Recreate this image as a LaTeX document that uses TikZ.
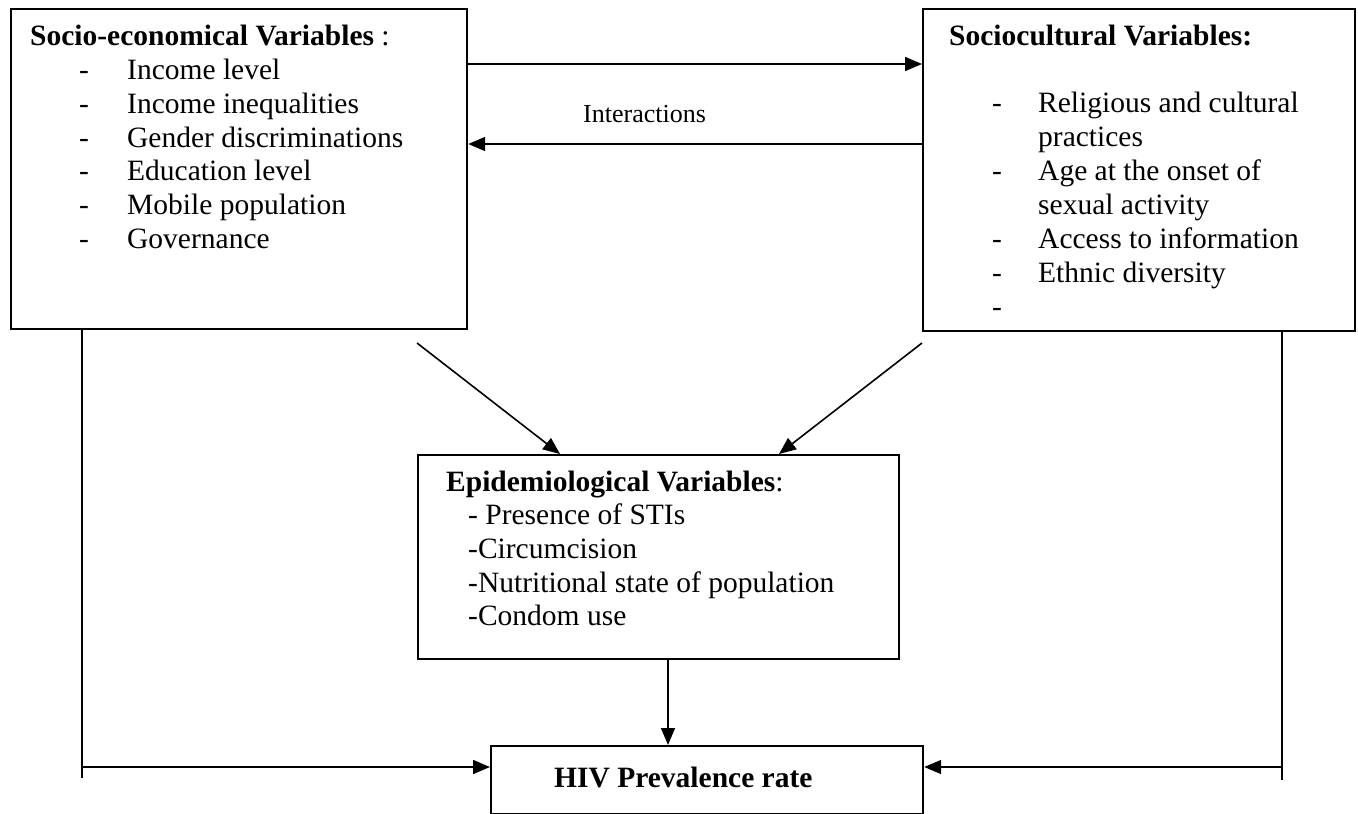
\documentclass[tikz,border=0pt]{standalone}
\usepackage{fontspec}
\setmainfont{Liberation Serif}
\usetikzlibrary{arrows.meta,calc}
\begin{document}
\begin{tikzpicture}[x=1pt,y=-1pt,
  box/.style={draw,line width=2.2pt,inner sep=0pt,anchor=north west},
  txt/.style={anchor=base west,inner sep=0pt,font=\fontsize{29.5}{34}\selectfont},
  conn/.style={line width=1.6pt,-{Triangle[length=17pt,width=14pt]}},
  plain/.style={line width=1.6pt}]
\useasboundingbox (0,0) rectangle (1358,814);
% boxes
\node[box,minimum width=456pt,minimum height=320pt] (lb) at (10,8) {};
\node[box,minimum width=432pt,minimum height=322pt] (rb) at (922,8) {};
\node[box,minimum width=481pt,minimum height=204pt] (eb) at (417,454) {};
\node[box,minimum width=432pt,minimum height=68pt] (hb) at (490,745) {};
% left box text
\node[txt] (lt) at (30,45) {\textbf{Socio-economical Variables} :};
\foreach \y/\t [count=\i] in {79/Income level,113/Income inequalities,147/Gender discriminations,180/Education level,214/Mobile population,248/Governance}{
  \node[txt] (ld\i) at (79,\y) {-};
  \node[txt] (li\i) at (127,\y) {\t};
}
% right box text
\node[txt] (rt) at (949,45) {\textbf{Sociocultural Variables:}};
\foreach \y [count=\i] in {112,180,248,282,316}{
  \node[txt] (rd\i) at (992,\y) {-};
}
\foreach \y/\t [count=\i] in {112/Religious and cultural,146/practices,180/Age at the onset of,214/sexual activity,248/Access to information,282/Ethnic diversity}{
  \node[txt] (ri\i) at (1038,\y) {\t};
}
% epidemiological box text
\node[txt] (et) at (446,491) {\textbf{Epidemiological Variables}:};
\foreach \y/\t [count=\i] in {524/- Presence of STIs,558/-Circumcision,592/-Nutritional state of population,625/-Condom use}{
  \node[txt] (ei\i) at (468,\y) {\t};
}
% HIV box text
\node[txt] (ht) at (554,787) {\textbf{HIV Prevalence rate}};
% interactions label
\node[anchor=base west,inner sep=0pt,font=\fontsize{26}{30}\selectfont] (int) at (583,122) {Interactions};
% helper coordinates
\coordinate (c64) at (0,64);
\coordinate (c144) at (0,144);
\coordinate (c767) at (0,767);
\coordinate (d1) at (417,343);
\coordinate (e1) at (560,0);
\coordinate (d2) at (922,343);
\coordinate (e2) at (779,0);
\coordinate (v) at (668,0);
\coordinate (lx) at (82,0);
\coordinate (rx) at (1282,0);
\coordinate (lend) at (82,778);
\coordinate (rend) at (1282,780);
% connectors
\draw[conn] (lb.east |- c64) -- (rb.west |- c64);
\draw[conn] (rb.west |- c144) -- (lb.east |- c144);
\draw[conn] (d1) -- (eb.north -| e1);
\draw[conn] (d2) -- (eb.north -| e2);
\draw[conn] (eb.south -| v) -- (hb.north -| v);
\draw[plain] (lb.south -| lx) -- (lend);
\draw[conn] (lx |- c767) -- (hb.west |- c767);
\draw[plain] (rb.south -| rx) -- (rend);
\draw[conn] (rx |- c767) -- (hb.east |- c767);
\end{tikzpicture}
\end{document}
